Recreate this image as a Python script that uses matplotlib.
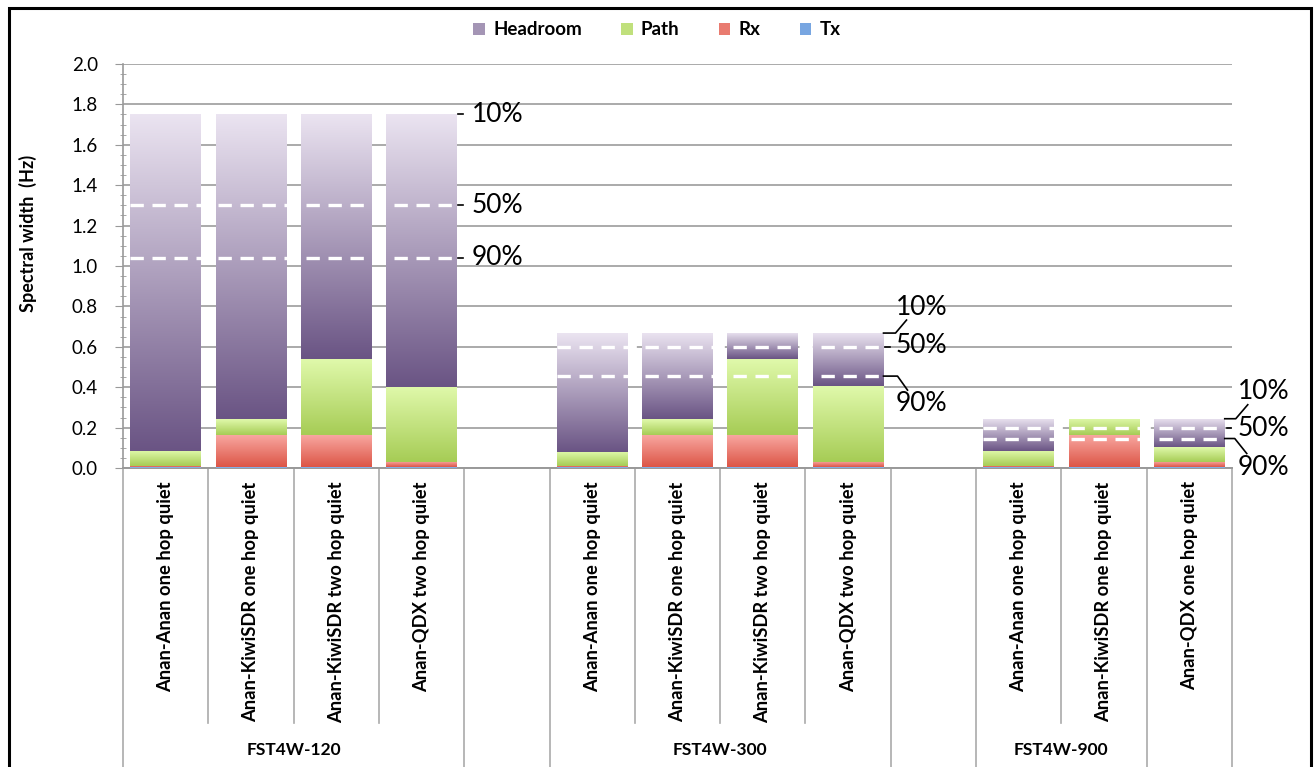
import matplotlib
matplotlib.use("Agg")
import matplotlib.pyplot as plt
import numpy as np
from matplotlib.colors import LinearSegmentedColormap
from matplotlib.ticker import MultipleLocator, FormatStrFormatter
from matplotlib.transforms import blended_transform_factory
from matplotlib.patches import Patch, Rectangle

# slots along the category axis ("" = empty spacer slot)
slot_labels = ["Anan-Anan one hop quiet", "Anan-KiwiSDR one hop quiet",
               "Anan-KiwiSDR two hop quiet", "Anan-QDX two hop quiet", "",
               "Anan-Anan one hop quiet", "Anan-KiwiSDR one hop quiet",
               "Anan-KiwiSDR two hop quiet", "Anan-QDX two hop quiet", "",
               "Anan-Anan one hop quiet", "Anan-KiwiSDR one hop quiet",
               "Anan-QDX one hop quiet"]
group_labels = ["FST4W-120", "", "FST4W-300", "", "FST4W-900", ""]
group_sizes = [4, 1, 4, 1, 2, 1]

tx = [0.003, 0.003, 0.003, 0.003, 0,
      0.003, 0.003, 0.003, 0.003, 0,
      0.003, 0.003, 0.003]
rx = [0.007, 0.161, 0.161, 0.027, 0,
      0.007, 0.161, 0.161, 0.027, 0,
      0.007, 0.161, 0.027]
path = [0.075, 0.078, 0.376, 0.373, 0,
        0.071, 0.078, 0.376, 0.375, 0,
        0.075, 0.080, 0.074]
headroom = [1.665, 1.508, 1.210, 1.347, 0,
            0.589, 0.428, 0.130, 0.265, 0,
            0.160, 0.0, 0.141]

pct_labels = ["10%", "50%", "90%"]
pct_levels = [[1.75, 1.30, 1.04],
              [0.668, 0.60, 0.455],
              [0.244, 0.197, 0.146]]
pct_spans = [(0, 3), (5, 8), (10, 12)]

plt.rcParams['font.family'] = ['Lato', 'DejaVu Sans']

fig = plt.figure(figsize=(13.14, 7.67), dpi=100)
ax = fig.add_axes([0.0936, 0.3898, 0.8440, 0.5268])

x = np.arange(len(slot_labels))
bw = 0.83

series = [
    ("Tx", tx, ["#5b8fd6", "#9cc3ef"]),
    ("Rx", rx, ["#dc5546", "#f9a9a3"]),
    ("Path", path, ["#a6cc55", "#e0f9ab"]),
    ("Headroom", headroom, ["#6a5484", "#ebe4f1"]),
]

grad = np.linspace(0, 1, 256).reshape(-1, 1)
bottom = np.zeros(len(x))
handles = []
for name, vals, cols in series:
    vals = np.array(vals, dtype=float)
    cmap = LinearSegmentedColormap.from_list(name, cols)
    bars = ax.bar(x, vals, bw, bottom=bottom, color=cmap(0.5),
                  linewidth=0, zorder=2)
    for b in bars:
        if b.get_height() <= 0:
            continue
        x0, y0 = b.get_x(), b.get_y()
        im = ax.imshow(grad, extent=[x0, x0 + b.get_width(), y0, y0 + b.get_height()],
                       origin='lower', aspect='auto', cmap=cmap, zorder=3,
                       interpolation='bilinear')
        im.set_clip_path(b)
    bottom += vals
    handles.append(Patch(facecolor=cmap(0.45), edgecolor='none', label=name))

ax.set_xlim(-0.5, len(x) - 0.5)
ax.set_ylim(0, 2.0)

# percentile dashed lines and labels
leader = [
    [((1, 0), (6, 0)), ((1, 0), (6, 0)), ((1, 0), (6, 0))],
    [((0, 0), (12, 0), (23, 13)), ((1, 0), (6, 0)), ((0, 0), (14, 0), (24, -14))],
    [((0, 0), (11, 0), (23, 14)), ((2, 0), (6, 0)), ((0, 0), (10, 0), (22, -15))],
]
text_off = [[(15, 0), (15, 0), (15, 0)],
            [(12, 26), (12, 1), (12, -27)],
            [(13, 27), (13, 0), (13, -29)]]
for g, (a, bidx) in enumerate(pct_spans):
    left = a - bw / 2
    right = bidx + bw / 2
    for k, lev in enumerate(pct_levels[g]):
        if k > 0:
            ax.hlines(lev, left, right, colors='white', linewidth=2.4,
                      linestyles=(0, (4, 2.6)), zorder=5)
        pts = leader[g][k]
        px, py = ax.transData.transform((right, lev))
        xs = [px + p[0] for p in pts]
        ys = [py + p[1] for p in pts]
        fig.lines.append(plt.Line2D(xs, ys, transform=None, color='black',
                                    linewidth=1.2))
        ax.annotate(pct_labels[k], xy=(right, lev), xytext=text_off[g][k],
                    textcoords='offset pixels', ha='left', va='center',
                    fontsize=19, annotation_clip=False)

# axes styling
ax.set_axisbelow(True)
ax.yaxis.grid(True, color='#aaaaaa', linewidth=1.4)
ax.yaxis.set_major_locator(MultipleLocator(0.2))
ax.yaxis.set_minor_locator(MultipleLocator(0.05))
ax.yaxis.set_major_formatter(FormatStrFormatter('%.1f'))
ax.tick_params(axis='y', which='major', length=6, color='#999999',
               labelsize=13.5, pad=12)
ax.tick_params(axis='y', which='minor', length=4, color='#999999',
               direction='inout')
ax.set_xticks([])
for s in ['top', 'right']:
    ax.spines[s].set_visible(False)
ax.spines['left'].set_color('#999999')
ax.spines['bottom'].set_color('#999999')
ax.spines['left'].set_linewidth(1.2)
ax.spines['bottom'].set_linewidth(1.4)

# hierarchical category axis
tr = blended_transform_factory(ax.transData, fig.transFigure)
group_edges = np.concatenate([[0], np.cumsum(group_sizes)])
for b in range(len(x) + 1):
    y_end = 0.0 if b in group_edges else 0.0574
    ax.plot([b - 0.5, b - 0.5], [0.3898, y_end], transform=tr, color='#aaaaaa',
            linewidth=1.2, clip_on=False)
for i, lab in enumerate(slot_labels):
    ax.text(i, 0.3725, lab, transform=tr, rotation=90, ha='center', va='top',
            fontsize=13.2, fontweight='bold')
for g, lab in enumerate(group_labels):
    c = (group_edges[g] + group_edges[g + 1] - 1) / 2
    ax.text(c, 0.022, lab, transform=tr, ha='center', va='center',
            fontsize=12.5, fontweight='bold')

fig.text(0.021, 0.696, "Spectral width  (Hz)", rotation=90, ha='center',
         va='center', fontsize=13, fontweight='bold')

fig.legend(handles=handles[::-1], loc='center', bbox_to_anchor=(0.5, 0.961),
           ncol=4, frameon=False, prop={'weight': 'bold', 'size': 13.5},
           handlelength=0.6, handleheight=0.6, handletextpad=0.45,
           columnspacing=2.1)

fig.patches.append(Rectangle((0.0065, -0.01), 0.9915, 0.9995, transform=fig.transFigure,
                             fill=False, edgecolor='black', linewidth=2.2))

fig.savefig("out.png", dpi=100)
